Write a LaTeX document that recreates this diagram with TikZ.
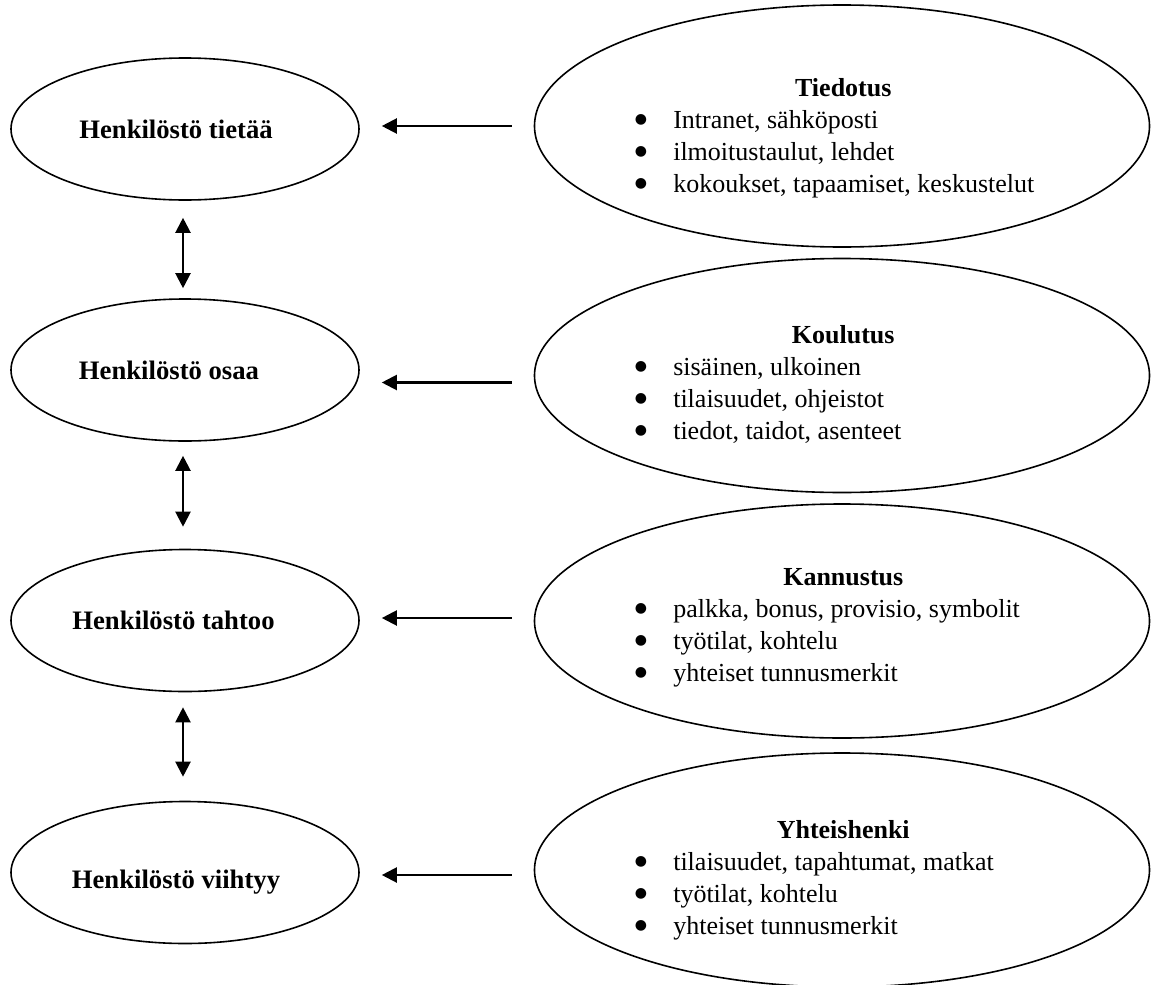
\documentclass[tikz,border=0pt]{standalone}
\usepackage{fontspec}
\setmainfont{Liberation Serif}
\newfontfamily\symfont{DejaVu Sans}
\usetikzlibrary{shapes.geometric,arrows.meta}
\newcommand{\blt}{\makebox[27.75pt][l]{\hspace*{-1pt}\raisebox{3.2pt}{\symfont\fontsize{10.5}{12}\selectfont ●}}}
\newcommand{\rblock}[4]{\begin{minipage}[t]{310.5pt}\parskip=0pt\parindent=0pt\centering\textbf{#1}\par\raggedright\blt #2\par\blt #3\par\blt #4\par\end{minipage}}
\tikzset{
  lell/.style={draw, ellipse, line width=1.2pt, minimum width=261pt, minimum height=106.5pt, inner sep=0pt},
  rell/.style={draw, ellipse, line width=1.2pt, minimum width=461.25pt, minimum height=175.5pt, inner sep=0pt},
  ltext/.style={anchor=base, inner sep=0pt, font=\fontsize{20}{24}\selectfont\bfseries},
  rtext/.style={anchor=base west, inner sep=0pt, font=\fontsize{19.5}{24}\selectfont},
  harr/.style={line width=1.6pt, -{Triangle[length=11.25pt,width=11.25pt]}, shorten <=16.5pt, shorten >=16.5pt},
  varr/.style={line width=1.6pt, {Triangle[length=11.25pt,width=11.25pt]}-{Triangle[length=11.25pt,width=11.25pt]}},
}
\begin{document}
\begin{tikzpicture}[x=0.75pt,y=-0.75pt]
\useasboundingbox (0,0) rectangle (1153,985);
% left ellipses
\node[lell] (L1) at (185,129) {};
\node[lell] (L2) at (185,370) {};
\node[lell] (L3) at (185,620.5) {};
\node[lell] (L4) at (185,872.5) {};
\node[ltext] (T1) at (176,138) {Henkilöstö tietää};
\node[ltext] (T2) at (169,379) {Henkilöstö osaa};
\node[ltext] (T3) at (173.5,629) {Henkilöstö tahtoo};
\node[ltext] (T4) at (176,888) {Henkilöstö viihtyy};
% right ellipses
\node[rell, minimum height=181.5pt] (R1) at (842,126) {};
\node[rell] (R2) at (842,375.5) {};
\node[rell] (R3) at (842,621) {};
\node[rell] (R4) at (842,870) {};
\node[rtext] (B1) at (636,96) {\rblock{Tiedotus}{Intranet, sähköposti}{ilmoitustaulut, lehdet}{kokoukset, tapaamiset, keskustelut}};
\node[rtext] (B2) at (636,343) {\rblock{Koulutus}{sisäinen, ulkoinen}{tilaisuudet, ohjeistot}{tiedot, taidot, asenteet}};
\node[rtext] (B3) at (636,585) {\rblock{Kannustus}{palkka, bonus, provisio, symbolit}{työtilat, kohtelu}{yhteiset tunnusmerkit}};
\node[rtext] (B4) at (636,838) {\rblock{Yhteishenki}{tilaisuudet, tapahtumat, matkat}{työtilat, kohtelu}{yhteiset tunnusmerkit}};
% horizontal arrows
\draw[harr] (R1.west) -- (R1.west -| L1.east);
\draw[harr] ([yshift=-5.25pt]R2.west) -- ([yshift=-5.25pt]R2.west -| L2.east);
\draw[harr] ([yshift=2.25pt]R3.west) -- ([yshift=2.25pt]R3.west -| L3.east);
\draw[harr] ([yshift=-3.75pt]R4.west) -- ([yshift=-3.75pt]R4.west -| L4.east);
% vertical arrows
\draw[varr, shorten <=12.75pt, shorten >=7.5pt] ([xshift=-1.5pt]L1.south) -- ([xshift=-1.5pt]L2.north);
\draw[varr, shorten <=10.5pt, shorten >=16.5pt] ([xshift=-1.5pt]L2.south) -- ([xshift=-1.5pt]L3.north);
\draw[varr, shorten <=11.25pt, shorten >=18pt] ([xshift=-1.5pt]L3.south) -- ([xshift=-1.5pt]L4.north);
\end{tikzpicture}
\end{document}
